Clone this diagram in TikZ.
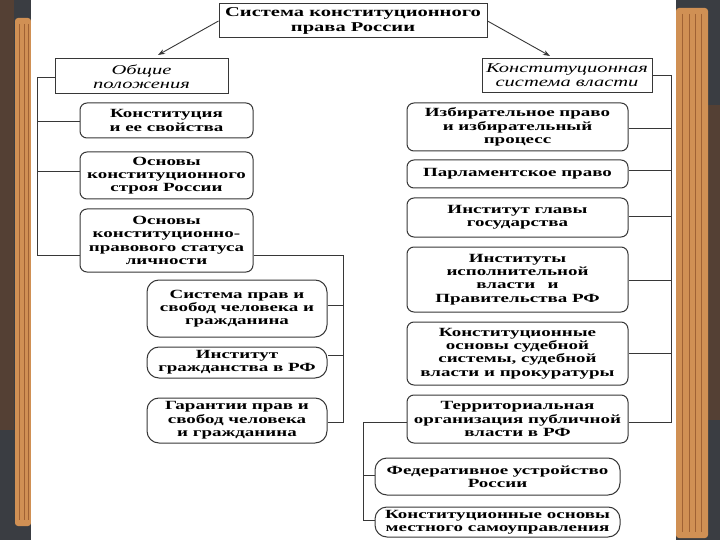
\documentclass[tikz,border=0pt]{standalone}
\usepackage{fontspec}
\setmainfont{Liberation Serif}[FakeStretch=1.52]
\usetikzlibrary{arrows.meta}
\definecolor{boardGray}{RGB}{58, 61, 66}
\definecolor{boardBrown}{RGB}{84, 64, 52}
\definecolor{woodTan}{RGB}{208, 144, 84}
\definecolor{woodDark}{RGB}{160, 98, 52}
\definecolor{lineGray}{RGB}{55, 55, 55}

\begin{document}
\begin{tikzpicture}[x=1pt, y=-1pt,
    box/.style={draw=lineGray, line width=1pt, fill=white, rounded corners=7pt,
      align=center, inner sep=0pt, font=\bfseries\fontsize{12.5}{13.3}\selectfont},
    subbox/.style={box, rounded corners=12pt},
    headbox/.style={box, rounded corners=0pt},
    link/.style={draw=lineGray, line width=0.9pt}]
  \useasboundingbox (0,0) rectangle (720,540);

  % Board behind the sheet
  \fill[boardGray] (0,0) rectangle (720,540);
  \fill[boardBrown] (0,0) rectangle (14,430);
  \fill[boardBrown] (708,105) rectangle (720,420);
  \fill[woodTan, rounded corners=3pt] (15,18) rectangle (31,526);
  \fill[woodTan, rounded corners=3pt] (676,8) rectangle (708,538);
  \foreach \x in {19,24,28} \draw[woodDark, line width=0.6pt] (\x,24) -- (\x,520);
  \foreach \x in {682,689,695,701} \draw[woodDark, line width=0.6pt] (\x,14) -- (\x,532);
  \fill[white] (31,0) rectangle (676,540);

  % Top of the scheme
  \node[headbox, minimum width=268pt, minimum height=34pt, font=\bfseries\fontsize{13.5}{14.5}\selectfont]
    (sys) at (353,21) {Система конституционного\\права России};
  \node[headbox, minimum width=173pt, minimum height=35pt, font=\itshape\fontsize{13.5}{14}\selectfont]
    (gen) at (141.5,76.5) {Общие\\положения};
  \node[headbox, minimum width=170pt, minimum height=34pt, font=\itshape\fontsize{13.5}{14}\selectfont]
    (pow) at (567,75.5) {Конституционная\\система власти};
  \coordinate (genTip) at (158,55);
  \coordinate (powTip) at (550,56);
  \draw[link, -{Stealth[length=7pt, width=5pt]}] (sys.west) -- (genTip);
  \draw[link, -{Stealth[length=7pt, width=5pt]}] (sys.east) -- (powTip);

  % Left column
  \node[box, minimum width=173pt, minimum height=35pt] (cons) at (166.5,120.5)
    {Конституция\\и ее свойства};
  \node[box, minimum width=173pt, minimum height=47pt] (base) at (166.5,175.5)
    {Основы\\конституционного\\строя России};
  \node[box, minimum width=173pt, minimum height=63pt] (stat) at (166.5,240.5)
    {Основы\\конституционно-\\правового статуса\\личности};

  \coordinate (lbTop) at (37,77);
  \coordinate (lbEnd) at (37,255);
  \draw[link] (gen.west |- lbTop) -- (lbTop) -- (lbEnd) -- (lbEnd -| stat.west);
  \draw[link] (37,121) -- (cons.west |- 0,121);
  \draw[link] (37,171) -- (base.west |- 0,171);

  % Rights of the person
  \node[subbox, minimum width=180pt, minimum height=57pt] (rights) at (237,308.5)
    {Система прав и\\свобод человека и\\гражданина};
  \node[subbox, minimum width=180pt, minimum height=31pt] (citz) at (237,362.5)
    {Институт\\гражданства в РФ};
  \node[subbox, minimum width=180pt, minimum height=45pt] (guar) at (237,420.5)
    {Гарантии прав и\\свобод человека\\и гражданина};

  \coordinate (sbTop) at (343,255);
  \coordinate (sbEnd) at (343,422);
  \draw[link] (stat.east |- sbTop) -- (sbTop) -- (sbEnd) -- (sbEnd -| guar.east);
  \draw[link] (343,305) -- (rights.east |- 0,305);
  \draw[link] (343,355) -- (citz.east |- 0,355);

  % Right column
  \node[box, minimum width=221pt, minimum height=48pt] (elec) at (517.5,127)
    {Избирательное право\\и избирательный\\процесс};
  \node[box, minimum width=221pt, minimum height=28pt] (parl) at (517.5,174)
    {Парламентское право};
  \node[box, minimum width=221pt, minimum height=39pt] (head) at (517.5,217.5)
    {Институт главы\\государства};
  \node[box, minimum width=221pt, minimum height=65pt] (exec) at (517.5,279.5)
    {Институты\\исполнительной\\власти\quad и\\Правительства РФ};
  \node[box, minimum width=221pt, minimum height=63pt] (court) at (517.5,353.5)
    {Конституционные\\основы судебной\\системы, судебной\\власти и прокуратуры};
  \node[box, minimum width=221pt, minimum height=48pt] (terr) at (517.5,419)
    {Территориальная\\организация публичной\\власти в РФ};

  \coordinate (rbTop) at (671,75);
  \coordinate (rbEnd) at (671,422);
  \draw[link] (pow.east |- rbTop) -- (rbTop) -- (rbEnd) -- (rbEnd -| terr.east);
  \draw[link] (671,128) -- (elec.east |- 0,128);
  \draw[link] (671,170) -- (parl.east |- 0,170);
  \draw[link] (671,216) -- (head.east |- 0,216);
  \draw[link] (671,280) -- (exec.east |- 0,280);
  \draw[link] (671,353) -- (court.east |- 0,353);

  % Territorial organisation
  \node[subbox, minimum width=245pt, minimum height=37pt] (fed) at (497.5,476.5)
    {Федеративное устройство\\России};
  \node[subbox, minimum width=245pt, minimum height=30pt] (local) at (497.5,522)
    {Конституционные основы\\местного самоуправления};

  \coordinate (tbTop) at (363,422);
  \coordinate (tbEnd) at (363,520);
  \draw[link] (terr.west |- tbTop) -- (tbTop) -- (tbEnd) -- (tbEnd -| local.west);
  \draw[link] (363,475) -- (fed.west |- 0,475);
\end{tikzpicture}
\end{document}
